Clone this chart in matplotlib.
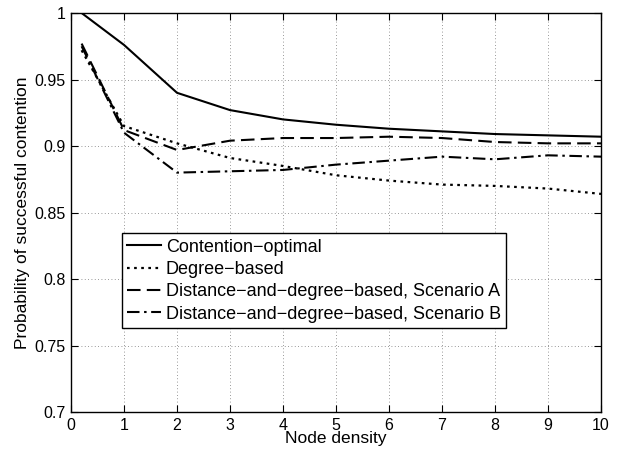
import numpy as np
import matplotlib.pyplot as plt

plt.rcParams['font.family'] = ['Liberation Sans', 'DejaVu Sans']

density = [0.2, 1, 2, 3, 4, 5, 6, 7, 8, 9, 10]
optimal = [1.0, 0.976, 0.940, 0.927, 0.920, 0.916, 0.913, 0.911, 0.909, 0.908, 0.907]
degree = [0.972, 0.915, 0.902, 0.891, 0.885, 0.878, 0.874, 0.871, 0.870, 0.868, 0.864]
scen_a = [0.977, 0.912, 0.897, 0.904, 0.906, 0.906, 0.907, 0.906, 0.903, 0.902, 0.902]
scen_b = [0.975, 0.910, 0.880, 0.881, 0.882, 0.886, 0.889, 0.892, 0.890, 0.893, 0.892]

labels = ['Contention\u2212optimal', 'Degree\u2212based',
          'Distance\u2212and\u2212degree\u2212based, Scenario A',
          'Distance\u2212and\u2212degree\u2212based, Scenario B']

fig = plt.figure(figsize=(6.29, 4.5), dpi=100)
ax = fig.add_axes([0.1129, 0.0844, 0.8426, 0.8867])

ax.plot(density, optimal, 'k-', lw=1.5, label=labels[0])
ax.plot(density, degree, 'k', ls=(0, (1.2, 2.0)), lw=1.6, label=labels[1])
ax.plot(density, scen_a, 'k', ls=(0, (6.5, 3.0)), lw=1.5, label=labels[2])
ax.plot(density, scen_b, 'k', ls=(0, (6.0, 2.2, 1.2, 2.2)), lw=1.5, label=labels[3])

ax.set_xlim(0, 10)
ax.set_ylim(0.7, 1.0)
ax.set_xticks(range(0, 11))
ax.set_yticks([0.7, 0.75, 0.8, 0.85, 0.9, 0.95, 1.0])
ax.set_yticklabels(['0.7', '0.75', '0.8', '0.85', '0.9', '0.95', '1'])
ax.grid(True, color='#777777', ls=(0, (1, 3)), lw=0.6)
ax.tick_params(direction='in', top=True, right=True, labelsize=11.5, length=5, pad=4)
for s in ax.spines.values():
    s.set_linewidth(1.0)
ax.set_xlabel('Node density', fontsize=12.5, labelpad=-1)
ax.set_ylabel('Probability of successful contention', fontsize=12.5, labelpad=3)

leg = ax.legend(loc='lower left', bbox_to_anchor=(0.096, 0.21), fontsize=13,
                fancybox=False, framealpha=1, edgecolor='k', handlelength=1.85,
                handletextpad=0.28, borderaxespad=0, borderpad=0.3, labelspacing=0.3)
leg.get_frame().set_linewidth(1.0)

fig.savefig('out.png', dpi=100)
